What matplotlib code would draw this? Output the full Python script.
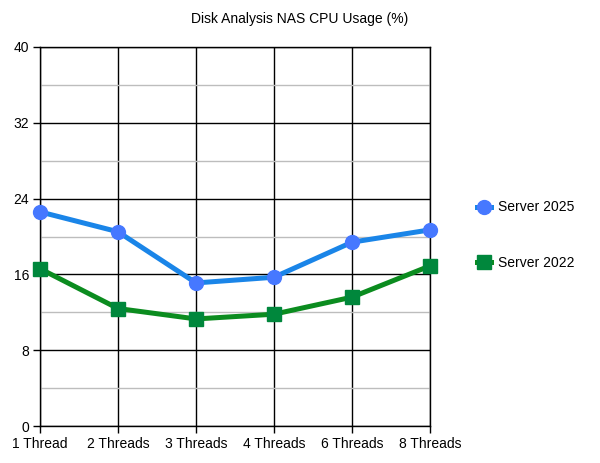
import matplotlib.pyplot as plt
from matplotlib.ticker import MultipleLocator

plt.rcParams["font.family"] = ["Liberation Sans", "DejaVu Sans"]

# ── DATA ─────────────────────────────────────────────
threads     = ["1 Thread", "2 Threads", "3 Threads", "4 Threads", "6 Threads", "8 Threads"]
server_2025 = [22.6, 20.5, 15.1, 15.7, 19.4, 20.7]
server_2022 = [16.6, 12.4, 11.3, 11.8, 13.6, 16.9]

# ── CHART ────────────────────────────────────────────
fig = plt.figure(figsize=(6, 4.63), dpi=100)
ax = fig.add_axes([0.0667, 0.0799, 0.65, 0.8186])

x = range(len(threads))
ax.plot(x, server_2025, color="#1a85e8", linewidth=3.6, marker="o",
        markersize=10, markerfacecolor="#4678ff", markeredgecolor="#4678ff",
        label="Server 2025", zorder=4, clip_on=False)
ax.plot(x, server_2022, color="#0b8c1f", linewidth=3.6, marker="s",
        markersize=10, markerfacecolor="#00873c", markeredgecolor="#00873c",
        label="Server 2022", zorder=4, clip_on=False)

ax.set_xlim(0, len(threads) - 1)
ax.set_ylim(0, 40)
ax.set_xticks(list(x))
ax.set_xticklabels(threads)
ax.yaxis.set_major_locator(MultipleLocator(8))
ax.yaxis.set_minor_locator(MultipleLocator(4))

ax.grid(which="major", axis="both", color="black", linewidth=1.0, zorder=1)
ax.grid(which="minor", axis="y", color="#bdbdbd", linewidth=1.0, zorder=1)
ax.tick_params(which="major", length=5, width=1, color="black",
               labelsize=10, pad=3)
ax.tick_params(which="minor", length=0)
for s in ax.spines.values():
    s.set_color("black")
    s.set_linewidth(1.0)

fig.text(0.5, 0.96, "Disk Analysis NAS CPU Usage (%)", ha="center",
         va="center", fontsize=10)

ax.legend(loc="upper left", bbox_to_anchor=(1.12, 0.595), frameon=False,
          fontsize=10, labelspacing=3.0, handlelength=1.0, handletextpad=0.5,
          borderaxespad=0, borderpad=0)

plt.savefig("out.png", dpi=100)
